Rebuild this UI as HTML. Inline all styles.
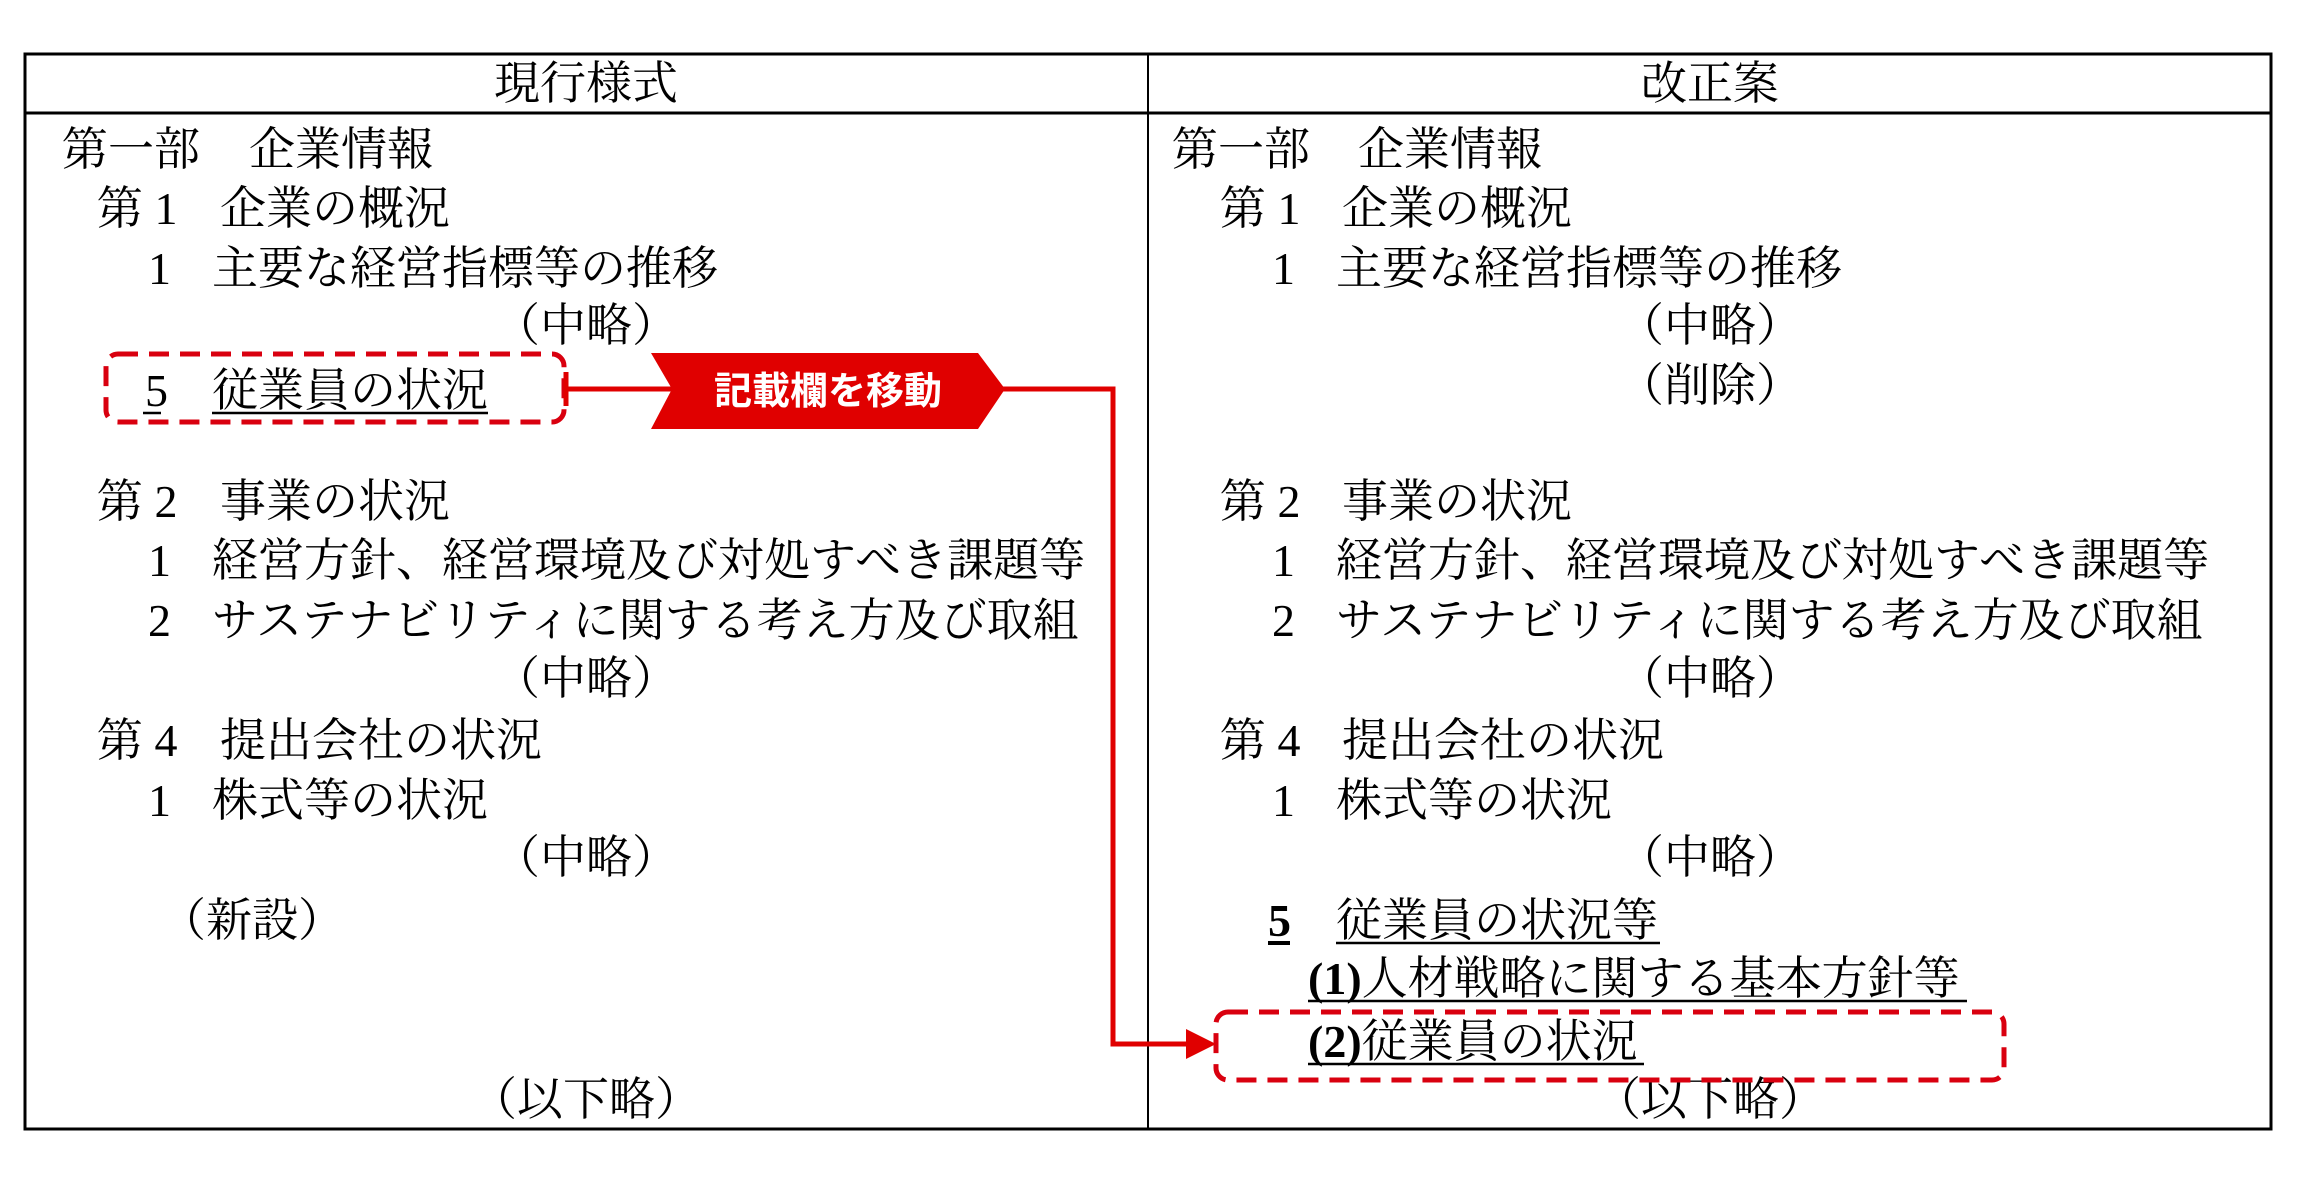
<!DOCTYPE html>
<html><head><meta charset="utf-8"><style>
html,body{margin:0;padding:0;background:#fff;}
svg{display:block;}
.t{font-family:"Liberation Serif","Noto Serif CJK JP",serif;font-size:46px;fill:#000;}
.c{text-anchor:middle;}
.b{font-weight:bold;}
</style></head><body>
<svg width="2297" height="1181" viewBox="0 0 2297 1181" xmlns="http://www.w3.org/2000/svg">
<rect x="25" y="54" width="2246" height="1075" fill="none" stroke="#000" stroke-width="3"/>
<line x1="25" y1="113" x2="2271" y2="113" stroke="#000" stroke-width="3"/>
<line x1="1148" y1="54" x2="1148" y2="1129" stroke="#000" stroke-width="2"/>
<g class="t">
<text x="586" y="99" class="c">現行様式</text>
<text x="1710" y="99" class="c">改正案</text>
<text x="62" y="165">第一部</text><text x="249" y="165">企業情報</text>
<text x="97" y="224">第 1</text><text x="220" y="224">企業の概況</text>
<text x="148" y="284">1</text><text x="212" y="284">主要な経営指標等の推移</text>
<text x="586" y="341" class="c">（中略）</text>
<text x="145" y="406">5</text><text x="212" y="406">従業員の状況</text>
<text x="97" y="517">第 2</text><text x="220" y="517">事業の状況</text>
<text x="148" y="576">1</text><text x="212" y="576">経営方針、経営環境及び対処すべき課題等</text>
<text x="148" y="636">2</text><text x="212" y="636">サステナビリティに関する考え方及び取組</text>
<text x="586" y="694" class="c">（中略）</text>
<text x="97" y="756">第 4</text><text x="220" y="756">提出会社の状況</text>
<text x="148" y="816">1</text><text x="212" y="816">株式等の状況</text>
<text x="586" y="873" class="c">（中略）</text>
<text x="160" y="936">（新設）</text>
<text x="586" y="1115" class="c">（以下略）</text>
<text x="1172" y="165">第一部</text><text x="1358" y="165">企業情報</text>
<text x="1220" y="224">第 1</text><text x="1342" y="224">企業の概況</text>
<text x="1272" y="284">1</text><text x="1336" y="284">主要な経営指標等の推移</text>
<text x="1710" y="341" class="c">（中略）</text>
<text x="1710" y="401" class="c">（削除）</text>
<text x="1220" y="517">第 2</text><text x="1342" y="517">事業の状況</text>
<text x="1272" y="576">1</text><text x="1336" y="576">経営方針、経営環境及び対処すべき課題等</text>
<text x="1272" y="636">2</text><text x="1336" y="636">サステナビリティに関する考え方及び取組</text>
<text x="1710" y="694" class="c">（中略）</text>
<text x="1220" y="756">第 4</text><text x="1342" y="756">提出会社の状況</text>
<text x="1272" y="816">1</text><text x="1336" y="816">株式等の状況</text>
<text x="1710" y="873" class="c">（中略）</text>
<text x="1268" y="936" class="b">5</text><text x="1336" y="936">従業員の状況等</text>
<text x="1308" y="994"><tspan class="b">(1)</tspan>人材戦略に関する基本方針等</text>
<text x="1308" y="1057"><tspan class="b">(2)</tspan>従業員の状況</text>
<text x="1710" y="1115" class="c">（以下略）</text>
</g>
<g stroke="#000" stroke-width="2.5">
<line x1="143" y1="413" x2="161" y2="413"/>
<line x1="212" y1="413" x2="488" y2="413"/>
<line x1="1268" y1="943" x2="1290" y2="943" stroke-width="4"/>
<line x1="1336" y1="943" x2="1660" y2="943"/>
<line x1="1308" y1="1001" x2="1967" y2="1001"/>
<line x1="1308" y1="1064" x2="1644" y2="1064"/>
</g>
<rect x="106" y="354" width="458" height="68" rx="12" fill="none" stroke="#d9000f" stroke-width="5" stroke-dasharray="20,11"/>
<rect x="1216" y="1012" width="788" height="68" rx="12" fill="none" stroke="#d9000f" stroke-width="5" stroke-dasharray="20,11"/>
<g stroke="#e00000" stroke-width="5" fill="none">
<line x1="566" y1="372" x2="566" y2="406"/>
<polyline points="566,389 1113,389 1113,1044 1190,1044"/>
</g>
<polygon points="1216,1044 1186,1029 1186,1059" fill="#e00000"/>
<polygon points="651,353 978,353 1005,389 978,429 651,429 672,389" fill="#e00000"/>
<text x="828" y="404" text-anchor="middle" fill="#fff" font-family="Liberation Sans,Noto Sans CJK JP,sans-serif" font-weight="bold" font-size="38">記載欄を移動</text>
</svg>
</body></html>
